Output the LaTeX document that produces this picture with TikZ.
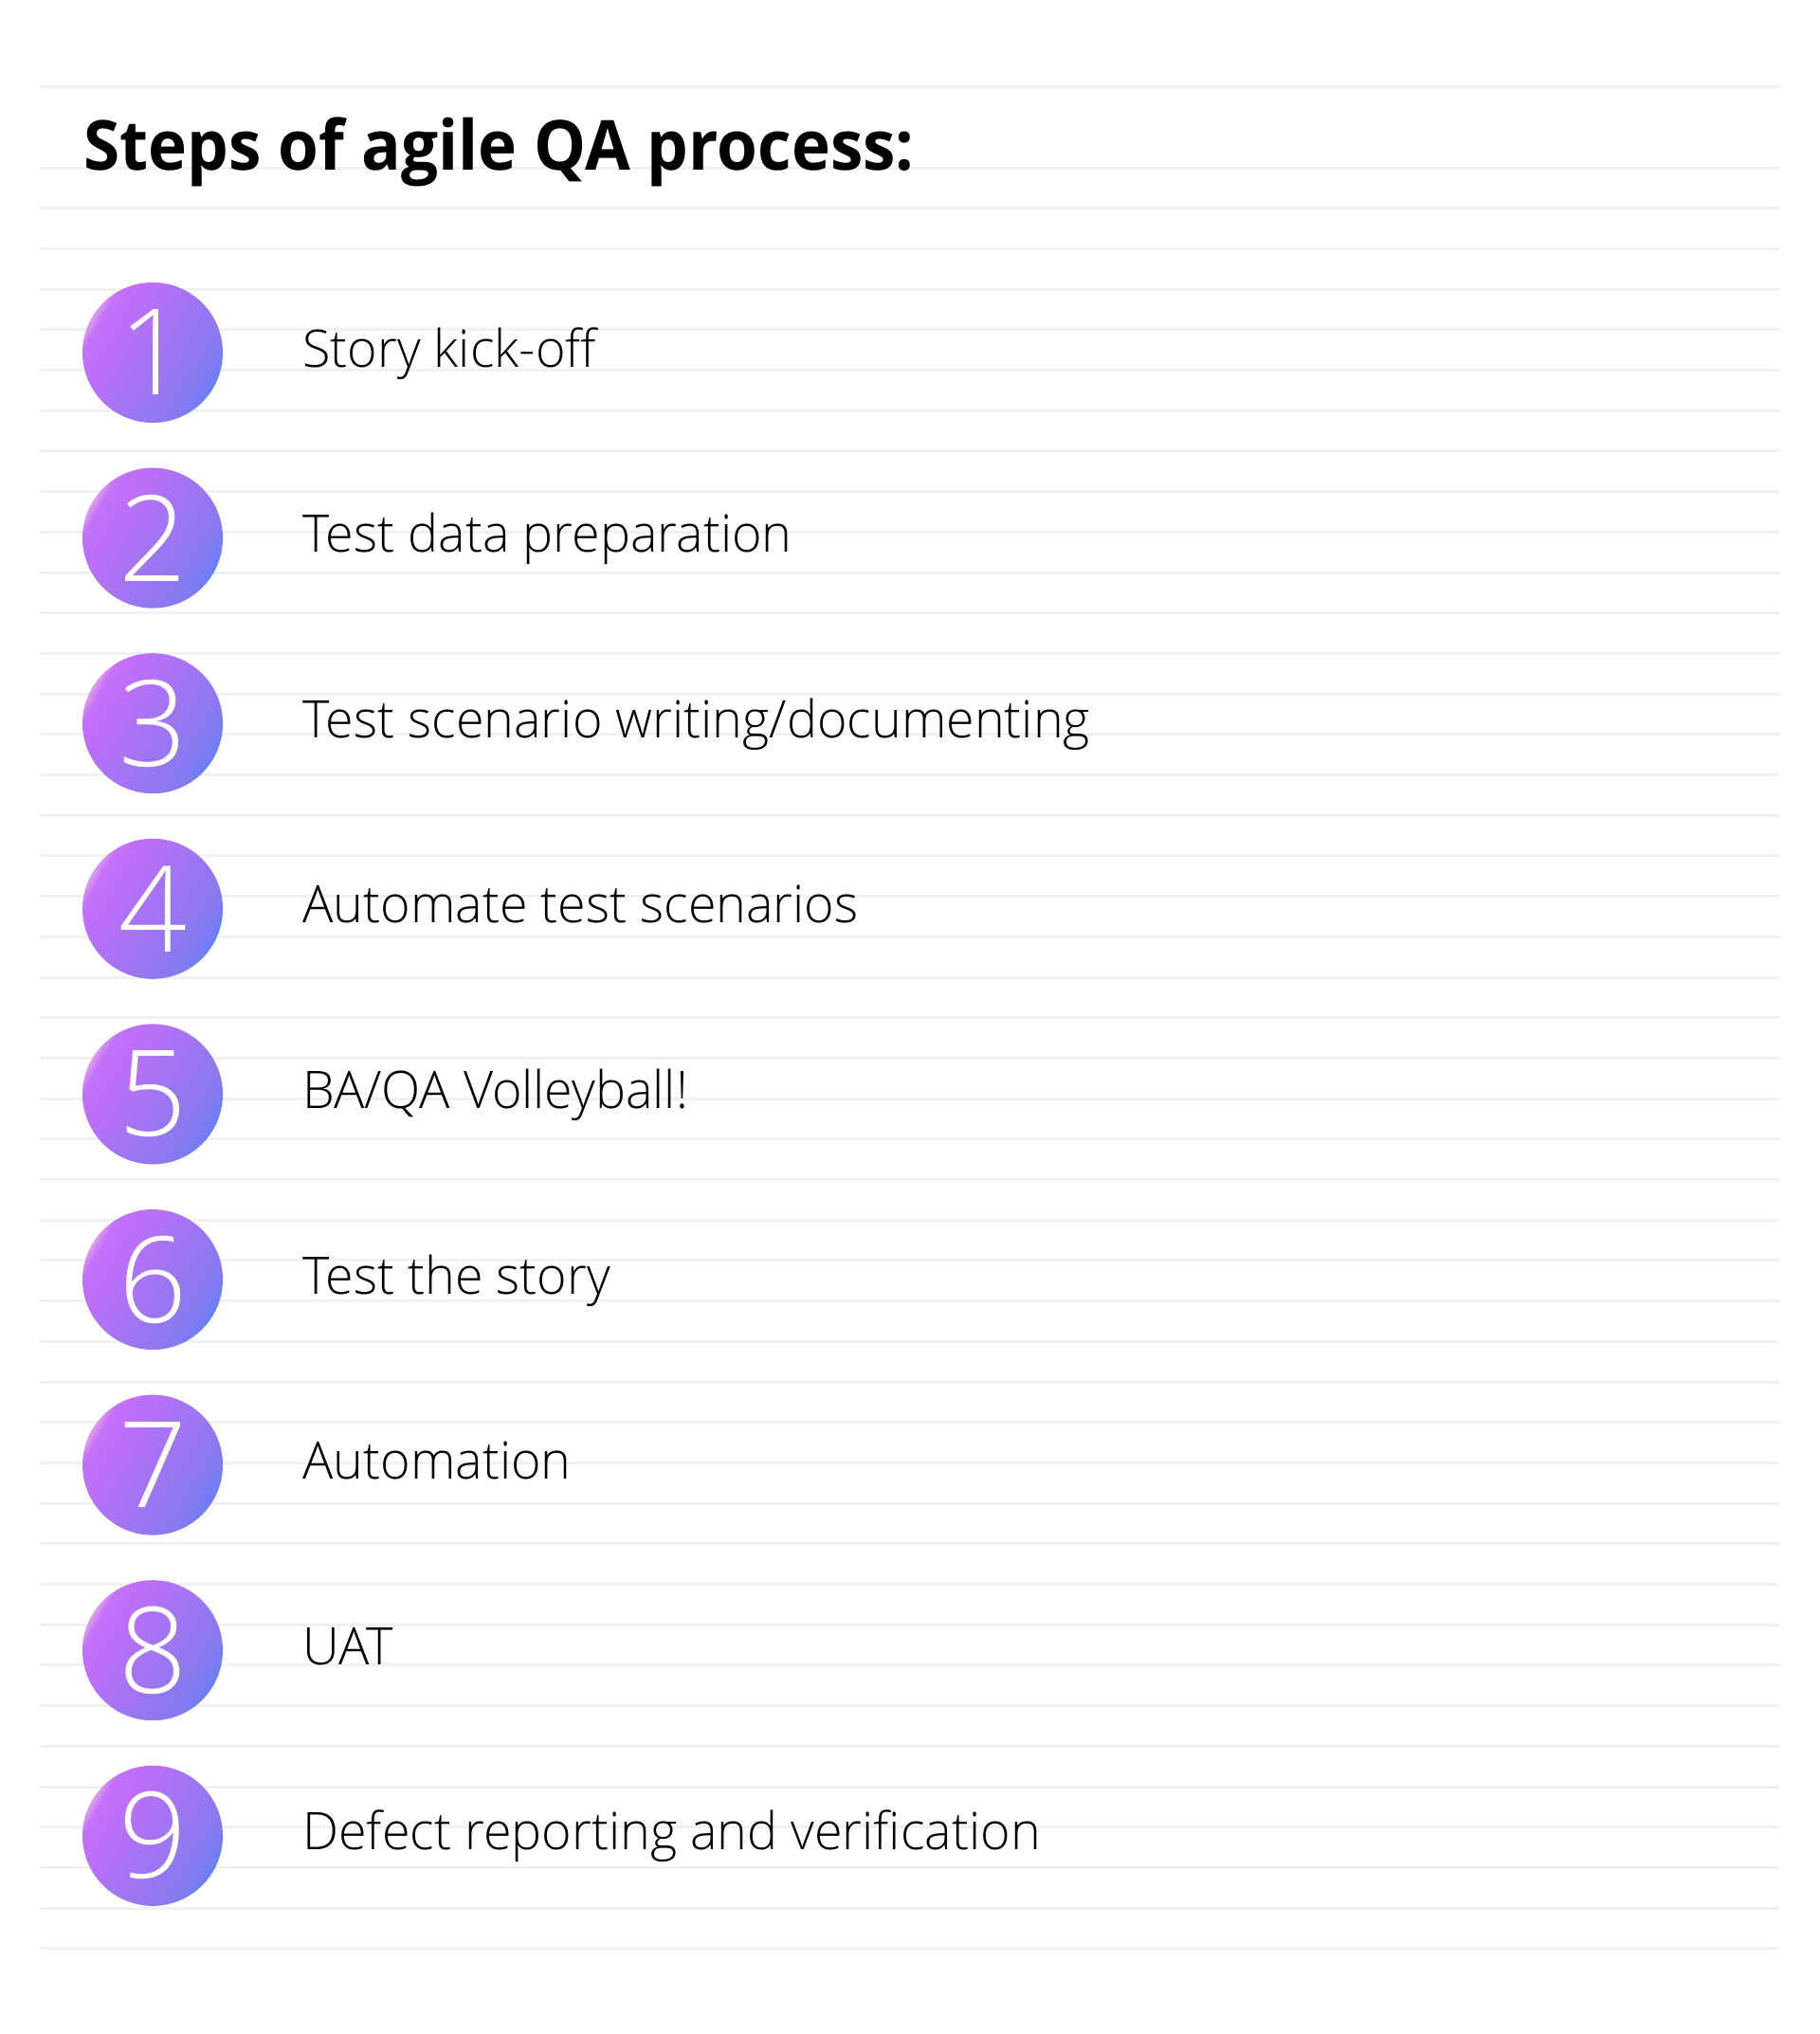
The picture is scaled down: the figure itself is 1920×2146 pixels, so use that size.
\documentclass[tikz,border=0pt]{standalone}
\usepackage{fontspec}
\IfFontExistsTF{Open Sans Light}{%
  \newfontfamily\lightfont{Open Sans Light}[FakeStretch=0.986]%
  \newfontfamily\digitfont{Open Sans Light}}{%
  \newfontfamily\lightfont{Open Sans}[FakeStretch=0.986]%
  \newfontfamily\digitfont{Open Sans}}
\newfontfamily\boldfont{Open Sans}[UprightFont=* Bold, FakeStretch=0.951]
\definecolor{rulegray}{HTML}{F1F1F1}
\definecolor{gA}{HTML}{DE9CEE}
\definecolor{gB}{HTML}{C470FA}
\definecolor{gC}{HTML}{BF6EFB}
\definecolor{gD}{HTML}{A474F4}
\definecolor{gE}{HTML}{8E78EF}
\definecolor{gF}{HTML}{7D7BF0}
\definecolor{gG}{HTML}{6680F6}
\pgfdeclarehorizontalshading{qagrad}{100bp}{color(0bp)=(gA); color(25bp)=(gA); color(28bp)=(gB); color(34bp)=(gC); color(50bp)=(gD); color(64bp)=(gE); color(71bp)=(gF); color(75bp)=(gG); color(100bp)=(gG)}
\tikzset{
  rule/.style={draw=rulegray, line width=1.5pt},
  stepcircle/.style={circle, minimum size=74pt, inner sep=0pt, shading=qagrad, shading angle=-30},
  stepnum/.style={text=white, inner sep=0pt, font=\digitfont\fontsize{63}{63}\selectfont},
  steplabel/.style={anchor=base west, inner sep=0pt, text=black, font=\lightfont\fontsize{27.3}{27.3}\selectfont},
  titlestyle/.style={anchor=base west, inner sep=0pt, text=black, font=\boldfont\fontsize{36.4}{36.4}\selectfont}
}
\begin{document}
\begin{tikzpicture}[x=0.5pt,y=-0.5pt]
\useasboundingbox (0,0) rectangle (1920,2146);
\fill[white] (0,0) rectangle (1920,2146);
% ruled lines
\foreach \k in {0,2,3,...,46} {
  \draw[rule] (42,{91.6+42.7*\k}) -- (1877,{91.6+42.7*\k});
}
\node[titlestyle] (title) at (88,179) {Steps of agile QA process:};
\foreach \i in {1,...,9} {
  \pgfmathsetmacro{\cy}{372+195.6*(\i-1)}
  \node[stepcircle] (c\i) at (161,\cy) {};
  \node[stepnum] (n\i) at (c\i) {\i};
}
\node[steplabel] (l1) at (319,387.0)  {Story kick-off};
\node[steplabel] (l2) at (319,582.6)  {Test data preparation};
\node[steplabel] (l3) at (319,778.2)  {Test scenario writing/documenting};
\node[steplabel] (l4) at (319,973.8)  {Automate test scenarios};
\node[steplabel] (l5) at (319,1169.4) {BA/QA Volleyball!};
\node[steplabel] (l6) at (319,1365.0) {Test the story};
\node[steplabel] (l7) at (319,1560.6) {Automation};
\node[steplabel] (l8) at (319,1756.2) {UAT};
\node[steplabel] (l9) at (319,1951.8) {Defect reporting and verification};
\end{tikzpicture}
\end{document}
